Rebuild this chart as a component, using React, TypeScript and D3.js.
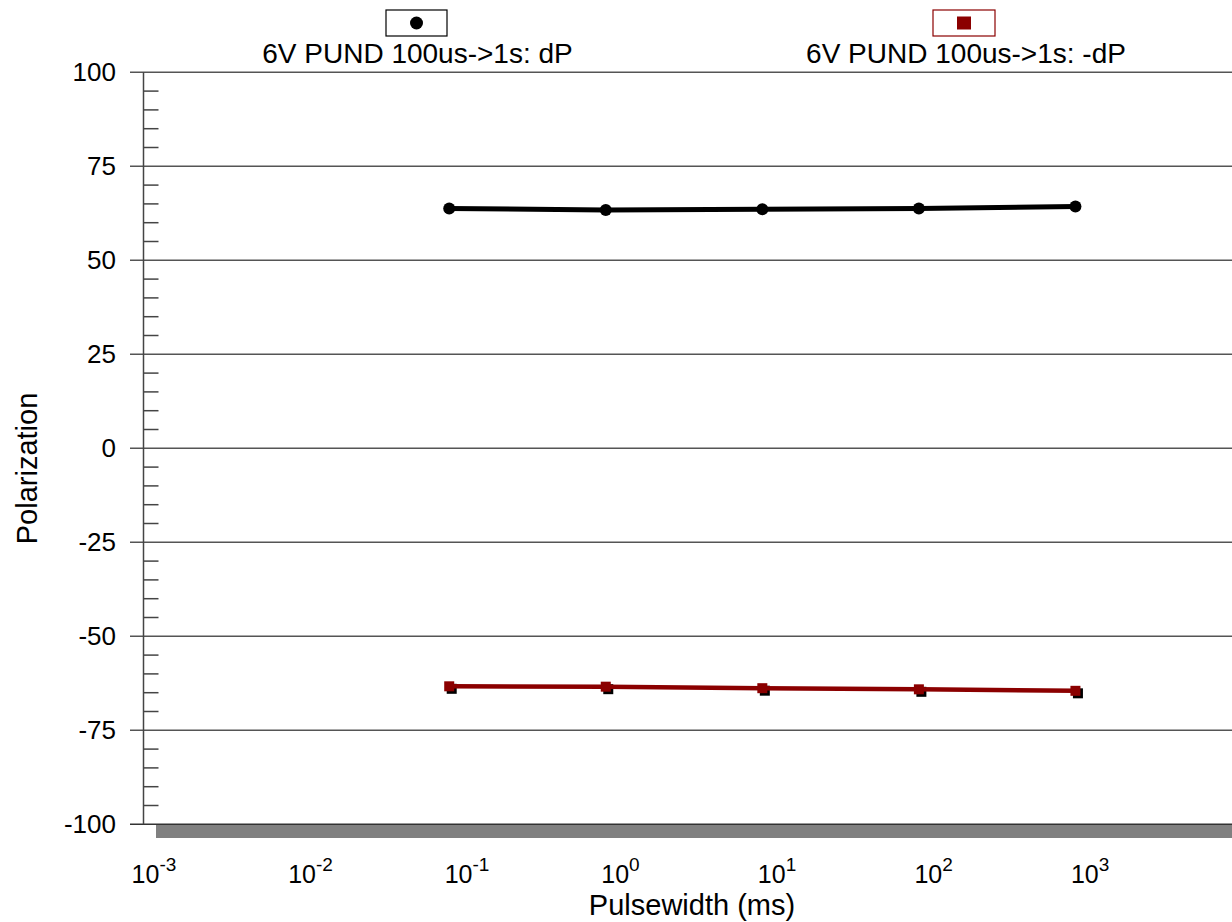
import React from "react";
import * as d3 from "d3";

const xValues = [0.1, 1, 10, 100, 1000];
const dPValues = [63.8, 63.4, 63.6, 63.8, 64.3];
const negDPValues = [-63.3, -63.4, -63.8, -64.1, -64.5];
const yMajorTicks = [100, 75, 50, 25, 0, -25, -50, -75, -100];
const xDecades = [-3, -2, -1, 0, 1, 2, 3];
const seriesNames = ["6V PUND 100us->1s: dP", "6V PUND 100us->1s: -dP"];

const W = 1232;
const H = 922;
const FONT = "Arial, 'Liberation Sans', sans-serif";

export default function App() {
  const x = d3.scaleLog().domain([1e-3, 1e4]).range([136.1, 1232]);
  const y = d3.scaleLinear().domain([-100, 100]).range([824.3, 72.3]);
  const axisX = 143.5;

  const minor = d3.range(-100, 100.001, 5).filter((v) => v % 25 !== 0);

  const line = d3
    .line<[number, number]>()
    .x((d) => x(d[0]))
    .y((d) => y(d[1]));

  const dP: [number, number][] = xValues.map((v, i) => [v, dPValues[i]]);
  const ndP: [number, number][] = xValues.map((v, i) => [v, negDPValues[i]]);

  return (
    <svg
      width={W}
      height={H}
      style={{ position: "absolute", left: 0, top: 0, display: "block", background: "#fff" }}
      fontFamily={FONT}
    >
      {/* gray bar under the bottom axis */}
      <rect x={156} y={y(-100) + 0.7} width={W - 156} height={13} fill="#808080" />

      {/* gridlines and major ticks */}
      {yMajorTicks.map((t) => (
        <g key={t}>
          <line
            x1={130}
            x2={W}
            y1={y(t)}
            y2={y(t)}
            stroke={t === -100 ? "#333" : "#555"}
            strokeWidth={1.5}
          />
          <text
            x={116}
            y={y(t)}
            textAnchor="end"
            dominantBaseline="central"
            fontSize={26}
            fill="#000"
          >
            {t}
          </text>
        </g>
      ))}
      {/* minor ticks */}
      {minor.map((t) => (
        <line key={t} x1={axisX} x2={158.5} y1={y(t)} y2={y(t)} stroke="#444" strokeWidth={1.5} />
      ))}
      {/* y axis line */}
      <line x1={axisX} x2={axisX} y1={y(100)} y2={y(-100)} stroke="#444" strokeWidth={1.5} />

      {/* x tick labels */}
      {xDecades.map((d) => (
        <text key={d} x={x(Math.pow(10, d)) - 4.5} y={883} fontSize={25} fill="#000">
          10
          <tspan dy={-12} fontSize={19}>
            {d}
          </tspan>
        </text>
      ))}

      {/* axis titles */}
      <text x={692} y={915} textAnchor="middle" fontSize={29} fill="#000">
        Pulsewidth (ms)
      </text>
      <text
        transform={`translate(37, 468.5) rotate(-90)`}
        textAnchor="middle"
        fontSize={29}
        fill="#000"
      >
        Polarization
      </text>

      {/* dP series */}
      <path d={line(dP) || ""} fill="none" stroke="#000" strokeWidth={5} />
      {dP.map((d, i) => (
        <circle key={i} cx={x(d[0])} cy={y(d[1])} r={6} fill="#000" />
      ))}

      {/* -dP series */}
      {ndP.map((d, i) => (
        <rect
          key={"s" + i}
          x={x(d[0]) - 5 + 2.5}
          y={y(d[1]) - 5 + 2.5}
          width={10}
          height={10}
          fill="#000"
        />
      ))}
      <path d={line(ndP) || ""} fill="none" stroke="#8b0000" strokeWidth={4.5} />
      {ndP.map((d, i) => (
        <rect
          key={i}
          x={x(d[0]) - 5}
          y={y(d[1]) - 5}
          width={10}
          height={10}
          fill="#8b0000"
        />
      ))}

      {/* legend */}
      <g>
        <rect x={386} y={10} width={61} height={26} fill="#fff" stroke="#000" strokeWidth={1.2} />
        <circle cx={416.5} cy={23} r={6.5} fill="#000" />
        <text x={417.5} y={63} textAnchor="middle" fontSize={28} fill="#000">
          {seriesNames[0]}
        </text>
        <rect x={933} y={10} width={62} height={26} fill="#fff" stroke="#8b0000" strokeWidth={1.2} />
        <rect x={957} y={16.5} width={14} height={13} fill="#8b0000" />
        <text x={966} y={63} textAnchor="middle" fontSize={28} fill="#000">
          {seriesNames[1]}
        </text>
      </g>
    </svg>
  );
}
